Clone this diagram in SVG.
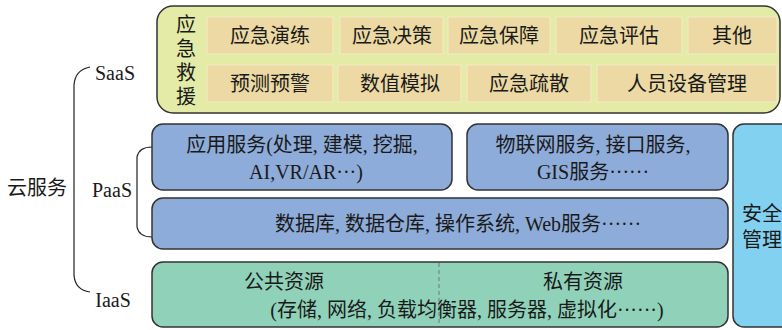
<svg xmlns="http://www.w3.org/2000/svg" width="782" height="330" viewBox="0 0 782 330">
<style>
text{font-family:"Liberation Serif","Noto Sans CJK SC",serif;font-size:20px;fill:#1a1a1a;text-anchor:middle;dominant-baseline:central}
.lab{font-size:20px}
.saas{fill:#e3eba7;stroke:#333;stroke-width:1.5}
.cell{fill:#ecd9a3;stroke:#f3ecc8;stroke-width:1}
.paas{fill:#8eacd9;stroke:#333;stroke-width:1.5}
.iaas{fill:#8fd2b9;stroke:#333;stroke-width:1.5}
.sec{fill:#83d1f0;stroke:#333;stroke-width:1.5}
.br{fill:none;stroke:#222;stroke-width:1.2}
</style>
<g id="connectors">
<path class="br" d="M90,67 Q75,70 74,85 L74,275 Q75,290 90,292"/>
<path class="br" d="M152,147 Q139,147 137,157 L137,227 Q139,237 152,237"/>
</g>
<g id="cloud"><text x="37" y="188">云服务</text></g>
<g id="label-saas"><text class="lab" x="115" y="73">SaaS</text></g>
<g id="label-paas"><text class="lab" x="112" y="190">PaaS</text></g>
<g id="label-iaas"><text class="lab" x="113" y="300">IaaS</text></g>
<g id="saas">
<rect class="saas" x="157" y="6" width="623" height="107" rx="16"/>
<text x="186" y="25">应</text><text x="186" y="49">急</text><text x="186" y="73">救</text><text x="186" y="97">援</text>
<rect class="cell" x="207" y="17" width="126" height="37"/><text x="270" y="36">应急演练</text>
<rect class="cell" x="340" y="17" width="103" height="37"/><text x="392" y="36">应急决策</text>
<rect class="cell" x="448" y="17" width="102" height="37"/><text x="499" y="36">应急保障</text>
<rect class="cell" x="556" y="17" width="126" height="37"/><text x="619" y="36">应急评估</text>
<rect class="cell" x="688" y="17" width="89" height="37"/><text x="732" y="36">其他</text>
<rect class="cell" x="207" y="65" width="126" height="37"/><text x="270" y="84">预测预警</text>
<rect class="cell" x="338" y="65" width="123" height="37"/><text x="400" y="84">数值模拟</text>
<rect class="cell" x="467" y="65" width="124" height="37"/><text x="529" y="84">应急疏散</text>
<rect class="cell" x="597" y="65" width="180" height="37"/><text x="687" y="84">人员设备管理</text>
</g>
<g id="paas-app">
<rect class="paas" x="152" y="124" width="300" height="66" rx="11"/>
<text x="302" y="145">应用服务(处理, 建模, 挖掘,</text>
<text x="306" y="172">AI,VR/AR···)</text>
</g>
<g id="paas-iot">
<rect class="paas" x="467" y="124" width="261" height="66" rx="11"/>
<text x="593" y="145">物联网服务, 接口服务,</text>
<text x="593" y="172">GIS服务······</text>
</g>
<g id="paas-db">
<rect class="paas" x="152" y="198" width="576" height="51" rx="11"/>
<text x="458" y="224">数据库, 数据仓库, 操作系统, Web服务······</text>
</g>
<g id="iaas">
<rect class="iaas" x="152" y="262" width="576" height="65" rx="11"/>
<line x1="439" y1="263" x2="439" y2="326" stroke="#777" stroke-width="1" stroke-dasharray="4,3"/>
<text x="284" y="282">公共资源</text>
<text x="583" y="282">私有资源</text>
<text x="467" y="310">(存储, 网络, 负载均衡器, 服务器, 虚拟化······)</text>
</g>
<g id="security">
<rect class="sec" x="733" y="124" width="70" height="203" rx="11"/>
<text x="762" y="214">安全</text>
<text x="762" y="240">管理</text>
</g>
</svg>
